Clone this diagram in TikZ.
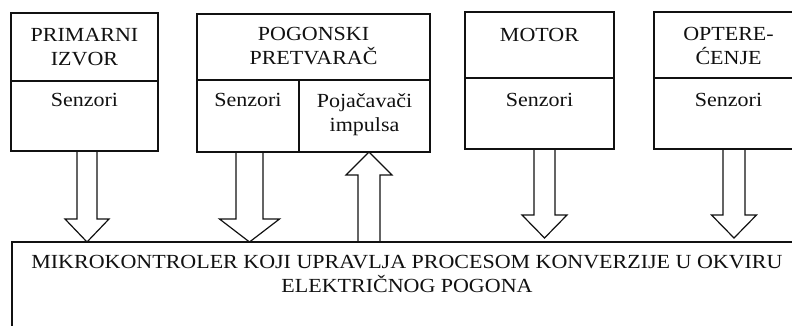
\documentclass[tikz,border=0pt]{standalone}
\usepackage{fontspec}
\setmainfont{Liberation Serif}[FakeStretch=1.1]
\usepackage{xcolor}
\usepackage{tikz}
\usetikzlibrary{backgrounds,calc,positioning}
\definecolor{epInk}{HTML}{111111}
\tikzset{
  ep diagram/.style={font=\fontsize{20}{24}\selectfont, text=epInk,
    line join=miter, x=1pt, y=1pt},
  ep cell/.style={draw=epInk, fill=white, line width=1.3pt, rectangle,
    inner sep=0pt, outer sep=0pt},
  ep text/.style={align=center, inner sep=0pt, anchor=north},
  ep fat/.style 2 args={draw=epInk, fill=white, line width=1.2pt,
    to path={let \p1=(\tikztostart), \p2=(\tikztotarget),
      \n1={ifthenelse(\y2<\y1,1,-1)*23} in
      (\x1-#1,\y1) -- (\x1-#1,\y2+\n1) -- (\x1-#2,\y2+\n1) -- (\x1,\y2)
      -- (\x1+#2,\y2+\n1) -- (\x1+#1,\y2+\n1) -- (\x1+#1,\y1)}}
}
\begin{document}
\begin{tikzpicture}[ep diagram]
\useasboundingbox (0,0) rectangle (792,325);
\node[ep cell,minimum width=147pt,minimum height=68pt,anchor=north west] (srcHead) at (11,312) {};
\node[ep cell,minimum width=147pt,minimum height=70pt,below=0pt of srcHead] (srcSen) {};
\node[ep cell,minimum width=233pt,minimum height=66pt,anchor=north west] (convHead) at (197,311) {};
\node[ep cell,minimum width=102pt,minimum height=72pt,below right=0pt of convHead.south west] (convSen) {};
\node[ep cell,minimum width=131pt,minimum height=72pt,right=0pt of convSen] (convPuls) {};
\node[ep cell,minimum width=149pt,minimum height=66pt,anchor=north west] (motHead) at (465,313) {};
\node[ep cell,minimum width=149pt,minimum height=71pt,below=0pt of motHead] (motSen) {};
\node[ep cell,minimum width=149pt,minimum height=66pt,anchor=north west] (loadHead) at (654,313) {};
\node[ep cell,minimum width=149pt,minimum height=71pt,below=0pt of loadHead] (loadSen) {};
\node[ep cell,minimum width=790pt,minimum height=110pt,anchor=north west] (ctrl) at (12,83) {};
\node[ep text,below=15pt of srcHead.north] (srcTxt) {PRIMARNI\\IZVOR};
\node[ep text,below=12pt of srcSen.north] (srcSenTxt) {Senzori};
\node[ep text,below=13pt of convHead.north] (convTxt) {POGONSKI\\PRETVARAČ};
\node[ep text,below=13pt of convSen.north] (convSenTxt) {Senzori};
\node[ep text,below=13pt of convPuls.north] (convPulsTxt) {Pojačavači\\impulsa};
\node[ep text,below=16pt of motHead.north] (motTxt) {MOTOR};
\node[ep text,below=15pt of motSen.north] (motSenTxt) {Senzori};
\node[ep text,below=15pt of loadHead.north] (loadTxt) {OPTERE-\\ĆENJE};
\node[ep text,below=15pt of loadSen.north] (loadSenTxt) {Senzori};
\node[ep text,below=13pt of ctrl.north] (ctrlTxt) {MIKROKONTROLER KOJI UPRAVLJA PROCESOM KONVERZIJE U OKVIRU\\ELEKTRIČNOG POGONA};
\begin{scope}[on background layer]
\draw[ep fat={10pt}{22pt}] ([xshift=2.5pt]srcSen.south) to ([xshift=2.5pt]srcSen.south |- ctrl.north);
\draw[ep fat={13.5pt}{30pt}] ([xshift=1.5pt]convSen.south) to ([xshift=1.5pt]convSen.south |- ctrl.north);
\draw[ep fat={11pt}{23pt}] ([xshift=4.5pt]convPuls.south |- ctrl.north) to ([xshift=4.5pt]convPuls.south);
\draw[ep fat={10.5pt}{22.5pt}] ([xshift=5pt]motSen.south) to ([xshift=5pt,yshift=4pt]motSen.south |- ctrl.north);
\draw[ep fat={11pt}{22.5pt}] ([xshift=5.5pt]loadSen.south) to ([xshift=5.5pt,yshift=4pt]loadSen.south |- ctrl.north);
\end{scope}
\end{tikzpicture}
\end{document}
